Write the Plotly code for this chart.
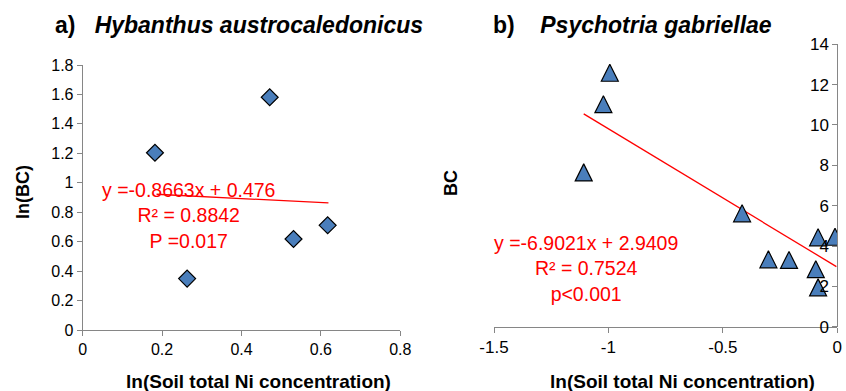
import plotly.graph_objects as go

W, H = 846, 391

# ---- Panel a data ----
a_x = [0.182, 0.263, 0.471, 0.531, 0.617]
a_y = [1.204, 0.349, 1.581, 0.618, 0.711]
a_fit_x = [0.186, 0.619]
a_fit_y = [0.922, 0.863]
a_xticks = [0, 0.2, 0.4, 0.6, 0.8]
a_xticktext = ["0", "0.2", "0.4", "0.6", "0.8"]
a_yticks = [0, 0.2, 0.4, 0.6, 0.8, 1.0, 1.2, 1.4, 1.6, 1.8]
a_yticktext = ["0", "0.2", "0.4", "0.6", "0.8", "1", "1.2", "1.4", "1.6", "1.8"]

# ---- Panel b data ----
b_x = [-0.994, -1.022, -1.108, -0.416, -0.301, -0.211, -0.084, -0.010, -0.094, -0.084]
b_y = [12.59, 11.03, 7.65, 5.62, 3.34, 3.31, 4.43, 4.46, 2.85, 1.95]
b_fit_x = [-1.108, -0.004]
b_fit_y = [10.55, 2.98]
b_xticks = [-1.5, -1.0, -0.5, 0]
b_xticktext = ["-1.5", "-1", "-0.5", "0"]
b_yticks = [0, 2, 4, 6, 8, 10, 12, 14]
b_yticktext = ["0", "2", "4", "6", "8", "10", "12", "14"]

FONT = "Liberation Sans, Arial, Helvetica, sans-serif"
BLUE = "#4a7ebb"
RED = "#ff0000"
AXC = "#868686"

def px_x(p):
    return p / W

def px_y(p):
    return 1 - p / H

fig = go.Figure()

fig.add_trace(go.Scatter(x=a_fit_x, y=a_fit_y, mode="lines",
                         line=dict(color=RED, width=1.3), xaxis="x", yaxis="y",
                         showlegend=False, hoverinfo="skip"))
fig.add_trace(go.Scatter(x=a_x, y=a_y, mode="markers",
                         marker=dict(symbol="diamond", size=13, color=BLUE,
                                     line=dict(color="black", width=1.2)),
                         xaxis="x", yaxis="y", showlegend=False))

fig.add_trace(go.Scatter(x=b_fit_x, y=b_fit_y, mode="lines",
                         line=dict(color=RED, width=1.3), xaxis="x2", yaxis="y2",
                         showlegend=False, hoverinfo="skip"))
fig.add_trace(go.Scatter(x=b_x, y=b_y, mode="markers",
                         marker=dict(symbol="arrow-down", angle=180, size=17, standoff=8.5,
                                     color=BLUE, line=dict(color="black", width=1.2)),
                         xaxis="x2", yaxis="y2", showlegend=False))

ax_common = dict(showgrid=False, zeroline=False, showline=True, linecolor=AXC,
                 linewidth=1, ticks="outside", tickcolor=AXC, tickwidth=1,
                 ticklen=5, tickmode="array", color="black", automargin=False)

fig.update_layout(
    width=W, height=H, margin=dict(l=0, r=0, t=0, b=0, autoexpand=False),
    paper_bgcolor="white", plot_bgcolor="rgba(0,0,0,0)",
    font=dict(family=FONT, color="black"),
    showlegend=False,
    xaxis=dict(domain=[px_x(82.7), px_x(400.3)], range=[0, 0.8], anchor="y",
               tickvals=a_xticks, ticktext=a_xticktext,
               tickfont=dict(size=16, family=FONT), **ax_common),
    yaxis=dict(domain=[px_y(330), px_y(65)], range=[0, 1.8], anchor="x",
               tickvals=a_yticks, ticktext=a_yticktext,
               tickfont=dict(size=16, family=FONT), **ax_common),
    xaxis2=dict(domain=[px_x(494), px_x(837.3)], range=[-1.5, 0], anchor="y2",
                tickvals=b_xticks, ticktext=b_xticktext,
                tickfont=dict(size=17, family=FONT), **ax_common),
    yaxis2=dict(domain=[px_y(326.7), px_y(44.3)], range=[0, 14], anchor="free",
                position=px_x(837.3), side="left",
                tickvals=b_yticks, ticktext=b_yticktext,
                tickfont=dict(size=17, family=FONT), **ax_common),
)

def ann(text, x, y, size, color="black", angle=0, xanchor="center", align="center"):
    fig.add_annotation(text=text, x=px_x(x), y=px_y(y), xref="paper", yref="paper",
                       showarrow=False, xanchor=xanchor, yanchor="middle",
                       textangle=angle, align=align,
                       font=dict(family=FONT, size=size, color=color))

# titles
ann("<b>a)&nbsp;&nbsp; <i>Hybanthus austrocaledonicus</i></b>", 53, 25, 23, xanchor="left")
ann("<b>b)&nbsp;&nbsp;&nbsp; <i>Psychotria gabriellae</i></b>", 491, 25, 23, xanchor="left")

# axis titles
ann("<b>ln(Soil total Ni concentration)</b>", 258, 381, 19)
ann("<b>ln(Soil total Ni concentration)</b>", 682, 381, 19)
ann("<b>ln(BC)</b>", 23, 192, 18, angle=-90)
ann("<b>BC</b>", 451, 183, 18, angle=-90)

# regression texts
ann("y =-0.8663x + 0.476<br>R² = 0.8842<br>P =0.017", 188, 215, 19.5, color=RED)
ann("y =-6.9021x + 2.9409<br>R² = 0.7524<br>p<0.001", 586, 268, 19.5, color=RED)

fig.write_html("out.html")
